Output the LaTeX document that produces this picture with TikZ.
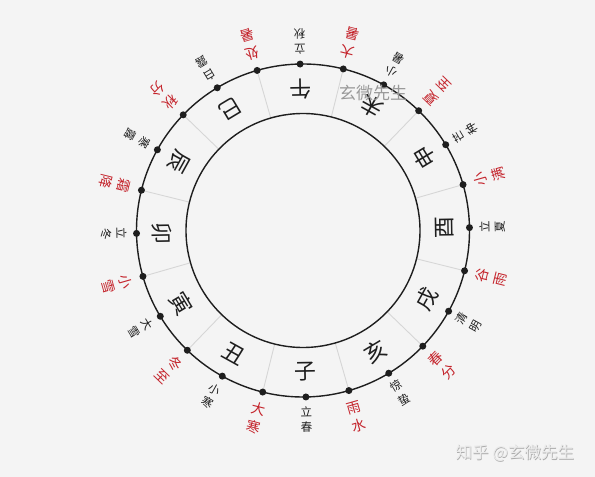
\documentclass[tikz,border=0pt]{standalone}
\usepackage{fontspec}
\newfontfamily\cjk{Noto Sans CJK SC}
\definecolor{bg}{HTML}{F4F4F4}
\definecolor{termred}{HTML}{C4232B}
\definecolor{ink}{HTML}{1E1E1E}
\definecolor{divgray}{HTML}{D6D6D6}
\tikzset{
  ring/.style={draw=ink, line width=1.4pt},
  divider/.style={draw=divgray, line width=0.9pt},
  termdot/.style={circle, fill=ink, inner sep=0pt, minimum size=7pt},
  branch/.style={font=\cjk\fontsize{22}{22}\selectfont, text=ink, inner sep=0pt},
  blackterm/.style={font=\cjk\fontsize{11.5}{11.5}\selectfont, text=ink, inner sep=0pt},
  redterm/.style={font=\cjk\fontsize{14}{14}\selectfont, text=termred, inner sep=0pt},
  wmark/.style={font=\cjk\fontsize{17}{17}\selectfont, text=black!40, inner sep=0pt},
}
\begin{document}
\begin{tikzpicture}[x=1pt,y=1pt]
\fill[bg] (0,0) rectangle (595,477);
\useasboundingbox (0,0) rectangle (595,477);
\coordinate (O) at (303,246.5);
\begin{scope}[shift={(O)}, rotate=1]
  \foreach \a in {15,45,...,345} {\draw[divider] (\a:117) -- (\a:166.5);}
  \draw[ring] (0,0) circle (166.5);
  \draw[ring] (0,0) circle (117);
  \foreach \ch [count=\i from 0] in {酉,申,未,午,巳,辰,卯,寅,丑,子,亥,戌} {
    \pgfmathsetmacro\ang{30*\i}
    \pgfmathsetmacro\rot{30*\i+91}
    \node[branch, rotate=\rot] (br\i) at (\ang:141.5) {\ch};
  }
  \foreach \p/\q [count=\i from 0] in {立/夏,小/满,芒/种,夏/至,小/暑,大/暑,立/秋,处/暑,白/露,秋/分,寒/露,霜/降,立/冬,小/雪,大/雪,冬/至,小/寒,大/寒,立/春,雨/水,惊/蛰,春/分,清/明,谷/雨} {
    \pgfmathsetmacro\ang{15*\i}
    \pgfmathsetmacro\rot{15*\i+91}
    \pgfmathtruncatemacro\odd{mod(\i,2)}
    \node[termdot] (d\i) at (\ang:166.5) {};
    \ifnum\odd=1
      \node[redterm, rotate=\rot] (ta\i) at (\ang:184.5) {\p};
      \node[redterm, rotate=\rot] (tb\i) at (\ang:203) {\q};
    \else
      \node[blackterm, rotate=\rot] (ta\i) at (\ang:181.5) {\p};
      \node[blackterm, rotate=\rot] (tb\i) at (\ang:197) {\q};
    \fi
  }
\end{scope}
\node[wmark] (wm) at (373,384) {玄微先生};
\node[font=\cjk\fontsize{16.5}{16.5}\selectfont, text=black!32, inner sep=0pt] (sig0) at (515.6,23.4) {知乎 @玄微先生};
\node[font=\cjk\fontsize{16.5}{16.5}\selectfont, text=black!8, inner sep=0pt] (sig) at (515,24) {知乎 @玄微先生};
\end{tikzpicture}
\end{document}
